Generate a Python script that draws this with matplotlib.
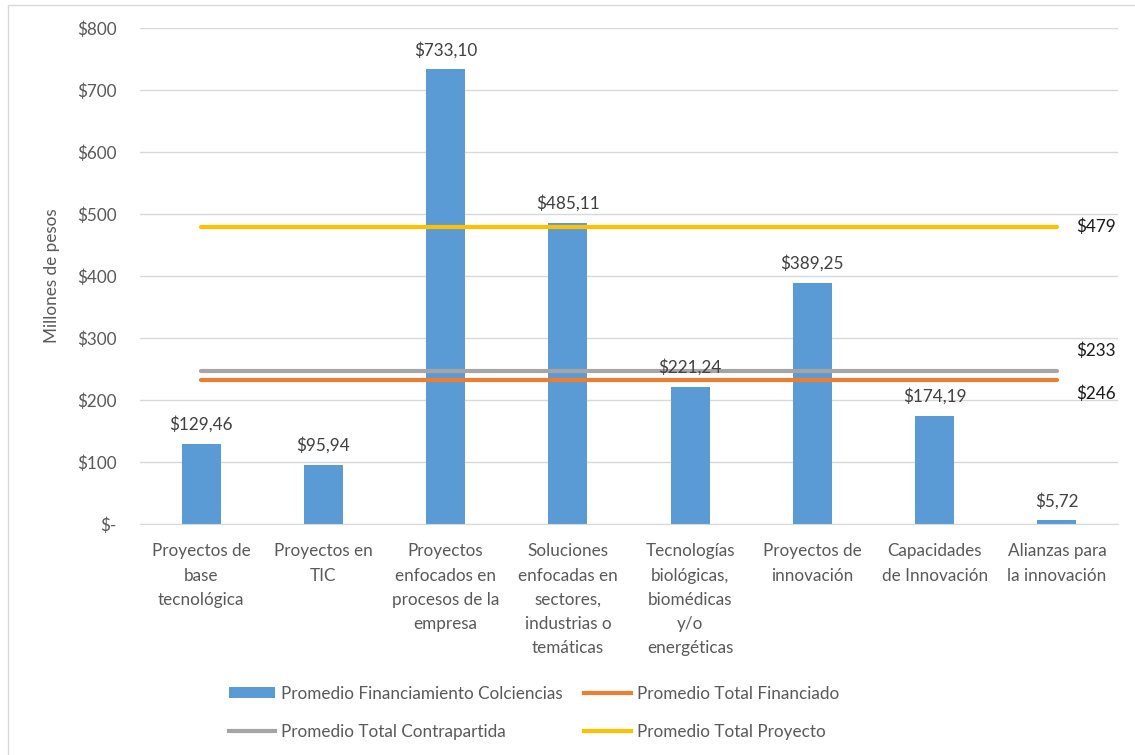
import matplotlib
matplotlib.use("Agg")
import matplotlib.pyplot as plt
from matplotlib.patches import Rectangle, Patch
from matplotlib.lines import Line2D

plt.rcParams['font.family'] = ['Lato', 'DejaVu Sans']

categories = [
    "Proyectos de\nbase\ntecnológica",
    "Proyectos en\nTIC",
    "Proyectos\nenfocados en\nprocesos de la\nempresa",
    "Soluciones\nenfocadas en\nsectores,\nindustrias o\ntemáticas",
    "Tecnologías\nbiológicas,\nbiomédicas\ny/o\nenergéticas",
    "Proyectos de\ninnovación",
    "Capacidades\nde Innovación",
    "Alianzas para\nla innovación",
]
colciencias = [129.46, 95.94, 733.10, 485.11, 221.24, 389.25, 174.19, 5.72]
total_financiado = 233
total_contrapartida = 246
total_proyecto = 479
line_labels = {"financiado": "$246", "contrapartida": "$233", "proyecto": "$479"}
yticks = [0, 100, 200, 300, 400, 500, 600, 700, 800]
ytick_labels = ["$-", "$100", "$200", "$300", "$400", "$500", "$600", "$700", "$800"]

BLUE = "#5B9BD5"
ORANGE = "#ED7D31"
GRAY = "#A5A5A5"
YELLOW = "#FFC000"
TXT = "#595959"
FS = 12.3

fig = plt.figure(figsize=(11.35, 7.55), dpi=100)
ax = fig.add_axes([140/1135, 231/755, (1118-140)/1135, (524-28)/755])

x = list(range(len(categories)))
ax.bar(x, colciencias, width=0.32, color=BLUE, zorder=2)
n = len(categories)
ax.plot(x, [total_contrapartida]*n, color=GRAY, lw=3.0, solid_capstyle='round', zorder=3)
ax.plot(x, [total_financiado]*n, color=ORANGE, lw=3.0, solid_capstyle='round', zorder=3)
ax.plot(x, [total_proyecto]*n, color=YELLOW, lw=3.0, solid_capstyle='round', zorder=3)

for xi, v in zip(x, colciencias):
    ax.annotate("$" + f"{v:.2f}".replace(".", ","), (xi, v), xytext=(0, 8),
                textcoords="offset points", ha="center", va="bottom",
                fontsize=FS, color="#404040", zorder=4)

ax.annotate(line_labels["proyecto"], (n-1, total_proyecto), xytext=(14, 0),
            textcoords="offset points", ha="left", va="center",
            fontsize=FS, color="#1a1a1a")
ax.annotate(line_labels["contrapartida"], (n-1, total_contrapartida), xytext=(14, 15),
            textcoords="offset points", ha="left", va="center",
            fontsize=FS, color="#1a1a1a")
ax.annotate(line_labels["financiado"], (n-1, total_financiado), xytext=(14, -10),
            textcoords="offset points", ha="left", va="center",
            fontsize=FS, color="#1a1a1a")

ax.set_xlim(-0.5, n-0.5)
ax.set_ylim(0, 800)
ax.set_yticks(yticks)
ax.set_yticklabels(ytick_labels)
ax.set_xticks(x)
ax.set_xticklabels(categories, linespacing=1.62, va="top")
ax.tick_params(axis='x', length=0, pad=14, labelsize=FS, colors=TXT)
ax.tick_params(axis='y', length=0, pad=17, labelsize=FS, colors=TXT)
ax.grid(axis='y', color="#D9D9D9", lw=1, zorder=0)
for s in ["top", "right", "left"]:
    ax.spines[s].set_visible(False)
ax.spines["bottom"].set_color("#D9D9D9")
ax.set_axisbelow(True)
ax.set_ylabel("Millones de pesos", fontsize=FS, color=TXT, labelpad=12)

handles = [
    Patch(facecolor=BLUE, edgecolor='none'),
    Line2D([], [], color=GRAY, lw=3.0),
    Line2D([], [], color=ORANGE, lw=3.0),
    Line2D([], [], color=YELLOW, lw=3.0),
]
labels = ["Promedio Financiamiento Colciencias", "Promedio Total Contrapartida",
          "Promedio Total Financiado", "Promedio Total Proyecto"]
leg = fig.legend(handles, labels, ncol=2, loc="upper left",
                 bbox_to_anchor=(220/1135, 1 - 677/755), frameon=False,
                 fontsize=FS, handlelength=2.7, handleheight=0.6,
                 handletextpad=0.35, columnspacing=1.3, labelspacing=1.3,
                 borderpad=0)
for t in leg.get_texts():
    t.set_color(TXT)

fig.patches.append(Rectangle((8/1135, -0.01), 1.05, 0.01 + 750/755,
                             transform=fig.transFigure, fill=False,
                             edgecolor="#D9D9D9", lw=1))

fig.savefig("out.png", dpi=100)
